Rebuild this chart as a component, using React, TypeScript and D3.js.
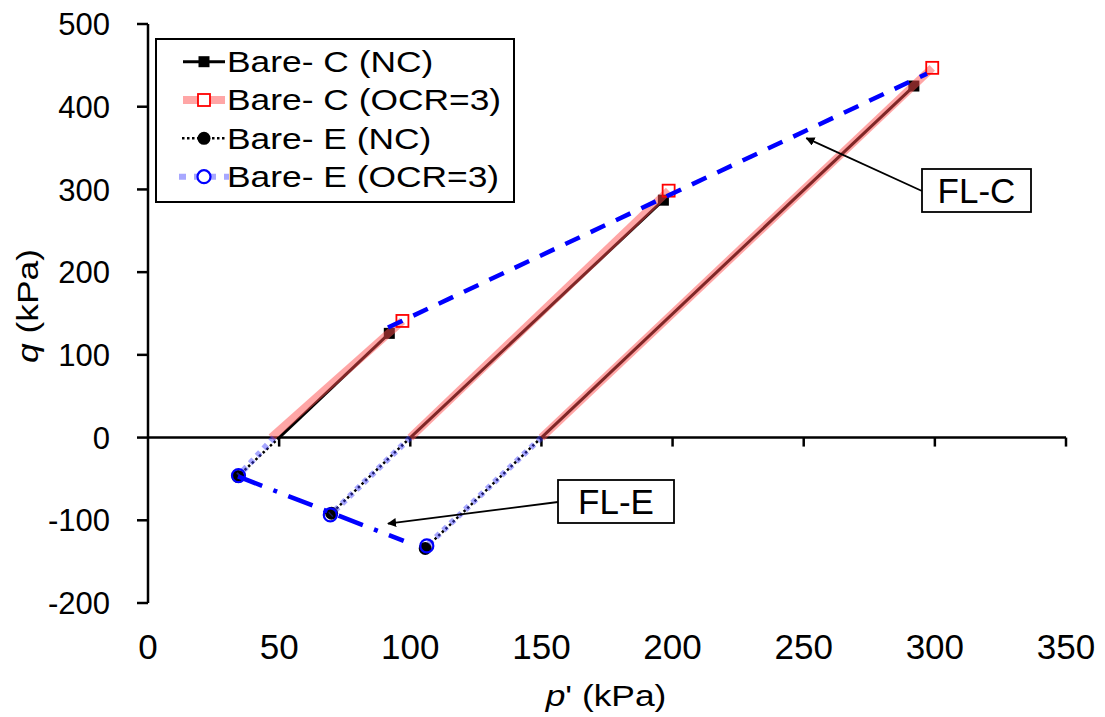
import React from "react";
import * as d3 from "d3";

// ---- data (kPa) ----
const xTicks = [0, 50, 100, 150, 200, 250, 300, 350];
const yTicks = [-200, -100, 0, 100, 200, 300, 400, 500];

// Bare- C (NC): start p', end p', end q
const cNC_p0 = [50, 100, 150];
const cNC_pf = [92, 196.5, 292];
const cNC_qf = [126, 287, 425];

// Bare- C (OCR=3)
const cOC_p0 = [47, 100, 150];
const cOC_pf = [97, 198.5, 299];
const cOC_qf = [141, 298.5, 447];

// Bare- E (NC)
const eNC_p0 = [50, 100, 150];
const eNC_pf = [34.3, 70, 105.7];
const eNC_qf = [-47, -91.5, -134];

// Bare- E (OCR=3)
const eOC_p0 = [48, 100, 150];
const eOC_pf = [34.5, 69.5, 106.3];
const eOC_qf = [-46, -93.5, -131];

// failure lines
const flC_p = [91.5, 297];
const flC_q = [133, 440];
const flE_p = [34.3, 97.5];
const flE_q = [-47, -125];

// annotation arrows
const annLabels = ["FL-C", "FL-E"];
const annHead_p = [251, 91.5];
const annHead_q = [362, -104];

const legendLabels = ["Bare- C (NC)", "Bare- C (OCR=3)", "Bare- E (NC)", "Bare- E (OCR=3)"];

const FONT = "Arial, 'Liberation Sans', sans-serif";

export default function App() {
  const W = 1105, H = 717;
  const x = d3.scaleLinear().domain([0, 350]).range([148, 1066]);
  const y = d3.scaleLinear().domain([-200, 500]).range([603, 24]);
  const line = d3.line<[number, number]>().x(d => x(d[0])).y(d => y(d[1]));

  const seg = (p0: number[], pf: number[], qf: number[]) =>
    p0.map((p, i) => line([[p, 0], [pf[i], qf[i]]]) as string);

  const blue = "#0000ff";
  const sq = 11;

  const boxes = [
    { x0: 922, y0: 169, w: 109, h: 43, tailX: 922, tailY: 191 },
    { x0: 558, y0: 480, w: 116, h: 43, tailX: 558, tailY: 502 },
  ];

  const legendY = [61.7, 100, 138.3, 176.7];
  const stretch = 1.22;

  return (
    <svg width={W} height={H} style={{ display: "block", position: "absolute", left: 0, top: 0, background: "#fff" }} fontFamily={FONT}>
      <defs>
        <marker id="ah" viewBox="0 0 10 10" refX="9" refY="5" markerWidth="9" markerHeight="9" markerUnits="userSpaceOnUse" orient="auto">
          <path d="M0,0 L10,5 L0,10 z" fill="#000" />
        </marker>
      </defs>

      {/* axes */}
      <line x1={x(0)} x2={x(0)} y1={y(500)} y2={y(-200)} stroke="#000" strokeWidth={2.5} />
      {yTicks.map(t => (
        <g key={"yt" + t}>
          <line x1={x(0) - 11} x2={x(0)} y1={y(t)} y2={y(t)} stroke="#000" strokeWidth={2.5} />
          <text x={110} y={y(t)} dy="0.36em" textAnchor="end" fontSize={31}>{t}</text>
        </g>
      ))}
      <line x1={x(0)} x2={x(350)} y1={y(0)} y2={y(0)} stroke="#000" strokeWidth={2.5} />
      {xTicks.map(t => (
        <g key={"xt" + t}>
          {t > 0 && <line x1={x(t)} x2={x(t)} y1={y(0)} y2={y(0) + 9} stroke="#000" strokeWidth={2.5} />}
          <text x={x(t)} y={646} dy="0.36em" textAnchor="middle" fontSize={35}>{t}</text>
        </g>
      ))}
      <text transform={`translate(606,706) scale(${stretch},1)`} textAnchor="middle" fontSize={29}>
        <tspan fontStyle="italic">p</tspan>' (kPa)
      </text>
      <text transform={`translate(38,306) rotate(-90) scale(${stretch},1)`} textAnchor="middle" fontSize={29}>
        <tspan fontStyle="italic">q</tspan> (kPa)
      </text>

      {/* Bare- C (NC) */}
      {seg(cNC_p0, cNC_pf, cNC_qf).map((d, i) => (
        <path key={"cnc" + i} d={d} fill="none" stroke="#000" strokeWidth={3} />
      ))}
      {cNC_pf.map((p, i) => (
        <rect key={"cncm" + i} x={x(p) - sq / 2} y={y(cNC_qf[i]) - sq / 2} width={sq} height={sq} fill="#000" />
      ))}
      {/* Bare- C (OCR=3) */}
      {seg(cOC_p0, cOC_pf, cOC_qf).map((d, i) => (
        <path key={"coc" + i} d={d} fill="none" stroke="#ff4d4d" strokeOpacity={0.5} strokeWidth={8} />
      ))}
      {cOC_pf.map((p, i) => (
        <rect key={"cocm" + i} x={x(p) - 6} y={y(cOC_qf[i]) - 6} width={12} height={12} fill="none" stroke="#ff0000" strokeWidth={1.8} />
      ))}
      {/* Bare- E (NC) */}
      {seg(eNC_p0, eNC_pf, eNC_qf).map((d, i) => (
        <path key={"enc" + i} d={d} fill="none" stroke="#000" strokeWidth={2.5} strokeDasharray="2.5 2.5" />
      ))}
      {eNC_pf.map((p, i) => (
        <circle key={"encm" + i} cx={x(p)} cy={y(eNC_qf[i])} r={6.5} fill="#000" />
      ))}
      {/* Bare- E (OCR=3) */}
      {seg(eOC_p0, eOC_pf, eOC_qf).map((d, i) => (
        <path key={"eoc" + i} d={d} fill="none" stroke="#3c3cff" strokeOpacity={0.45} strokeWidth={6} strokeDasharray="5 5" />
      ))}
      {eOC_pf.map((p, i) => (
        <circle key={"eocm" + i} cx={x(p)} cy={y(eOC_qf[i])} r={6.5} fill="none" stroke={blue} strokeWidth={2.2} />
      ))}

      {/* failure lines */}
      <path d={line(flC_p.map((p, i) => [p, flC_q[i]]) as [number, number][]) as string} fill="none" stroke={blue} strokeWidth={4.5} strokeDasharray="16 12" />
      <path d={line(flE_p.map((p, i) => [p, flE_q[i]]) as [number, number][]) as string} fill="none" stroke={blue} strokeWidth={4.5} strokeDasharray="26 12 4 12" />

      {/* annotations */}
      {boxes.map((b, i) => (
        <g key={"ann" + i}>
          <line x1={b.tailX} y1={b.tailY} x2={x(annHead_p[i])} y2={y(annHead_q[i])} stroke="#000" strokeWidth={1.8} markerEnd="url(#ah)" />
          <rect x={b.x0} y={b.y0} width={b.w} height={b.h} fill="#fff" stroke="#000" strokeWidth={1.8} />
          <text x={b.x0 + b.w / 2} y={b.y0 + b.h / 2} dy="0.36em" textAnchor="middle" fontSize={35}>{annLabels[i]}</text>
        </g>
      ))}

      {/* legend */}
      <rect x={156} y={39} width={358} height={163} fill="#fff" stroke="#000" strokeWidth={2} />
      {legendLabels.map((lab, i) => {
        const ly = legendY[i];
        return (
          <g key={"lg" + i}>
            {i === 0 && <>
              <line x1={183} x2={225} y1={ly} y2={ly} stroke="#000" strokeWidth={3} />
              <rect x={204 - sq / 2} y={ly - sq / 2} width={sq} height={sq} fill="#000" />
            </>}
            {i === 1 && <>
              <line x1={183} x2={225} y1={ly} y2={ly} stroke="#ff4d4d" strokeOpacity={0.5} strokeWidth={8} />
              <rect x={198} y={ly - 6} width={12} height={12} fill="#fff" stroke="#ff0000" strokeWidth={1.8} />
            </>}
            {i === 2 && <>
              <line x1={182} x2={226} y1={ly} y2={ly} stroke="#000" strokeWidth={2.5} strokeDasharray="2.5 2.5" />
              <circle cx={204} cy={ly} r={6.5} fill="#000" />
            </>}
            {i === 3 && <>
              <line x1={179} x2={229} y1={ly} y2={ly} stroke="#3c3cff" strokeOpacity={0.45} strokeWidth={6} strokeDasharray="7 8" />
              <circle cx={204} cy={ly} r={6.5} fill="#fff" stroke={blue} strokeWidth={2.2} />
            </>}
            <text transform={`translate(227,${ly}) scale(${stretch},1)`} dy="0.36em" fontSize={29}>{lab}</text>
          </g>
        );
      })}
    </svg>
  );
}
